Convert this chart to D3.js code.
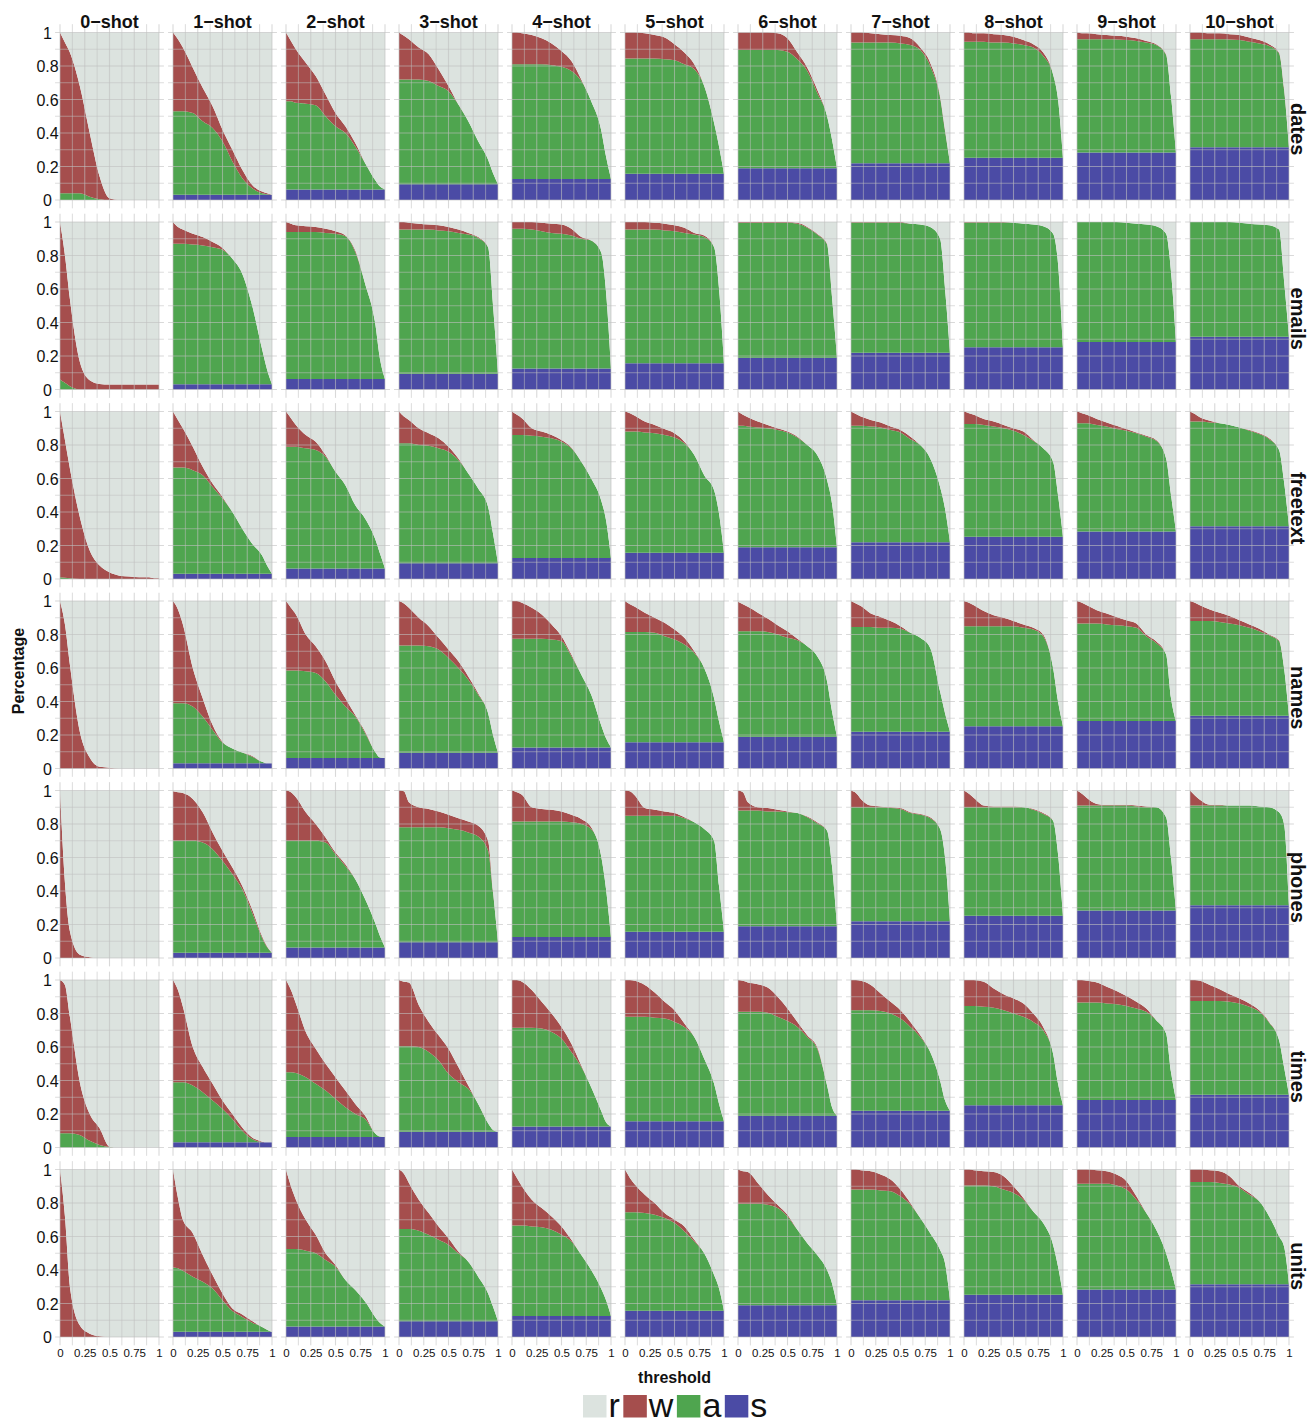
<!DOCTYPE html>
<html>
<head>
	<meta charset="utf-8">
	<title>Share of answers by threshold, task and number of shots</title>
	<script src="https://cdn.jsdelivr.net/npm/d3@7/dist/d3.min.js"></script>
	<style>
		body { margin: 0; background: #fff; }
		text { font-family: "Liberation Sans", Arial, Helvetica, sans-serif; fill: #111; }
	</style>
</head>
<body>
<div id="content"></div>

<script type="text/javascript">
	var thresholds = [0, 0.05, 0.1, 0.2, 0.3, 0.4, 0.5, 0.6, 0.7, 0.8, 0.9, 0.95, 1];
	var shots = ["0\u2212shot", "1\u2212shot", "2\u2212shot", "3\u2212shot", "4\u2212shot", "5\u2212shot",
		"6\u2212shot", "7\u2212shot", "8\u2212shot", "9\u2212shot", "10\u2212shot"];
	var tasks = ["dates", "emails", "freetext", "names", "phones", "times", "units"];
	var legendKeys = ["r", "w", "a", "s"];
	var xTicks = [0, 0.25, 0.5, 0.75, 1];
	var yTicks = [0, 0.2, 0.4, 0.6, 0.8, 1];
	var xGrid = [0, 0.125, 0.25, 0.375, 0.5, 0.625, 0.75, 0.875, 1];
	var yGrid = [0, 0.1, 0.2, 0.3, 0.4, 0.5, 0.6, 0.7, 0.8, 0.9, 1];

	// s share, the same at every threshold, one per shot count
	var sShare = [0, 0.031, 0.063, 0.094, 0.126, 0.157, 0.189, 0.22, 0.252, 0.283, 0.315];

	// top = s + a + w (1 - r), ok = s + a ; one row per shot, one value per threshold
	var datesTop = [
		[1, .94, .88, .68, .40, .14, .01, 0, 0, 0, 0, 0, 0],
		[1, .96, .91, .79, .67, .56, .42, .30, .18, .09, .05, .04, .031],
		[1, .95, .90, .82, .74, .63, .52, .44, .34, .22, .12, .08, .063],
		[1, .98, .96, .91, .87, .78, .68, .57, .47, .35, .24, .16, .094],
		[1, 1, .995, .985, .965, .935, .89, .83, .72, .59, .42, .26, .126],
		[1, 1, 1, .995, .985, .97, .93, .88, .81, .68, .46, .32, .157],
		[1, 1, 1, 1, 1, .995, .965, .88, .79, .66, .50, .36, .19],
		[1, 1, 1, .995, .99, .985, .98, .965, .91, .82, .62, .42, .22],
		[1, 1, .995, .995, .99, .985, .975, .955, .93, .88, .75, .60, .252],
		[1, .995, .995, .99, .985, .98, .975, .965, .95, .93, .87, .62, .283],
		[1, 1, 1, .995, .995, .99, .985, .97, .955, .93, .88, .67, .315]
	];
	var datesOk = [
		[.04, .04, .04, .04, .02, .005, 0, 0, 0, 0, 0, 0, 0],
		[.53, .53, .53, .52, .47, .43, .35, .23, .13, .07, .04, .035, .031],
		[.59, .59, .58, .575, .565, .50, .44, .40, .32, .22, .12, .08, .063],
		[.72, .72, .72, .72, .71, .68, .65, .57, .47, .35, .24, .16, .094],
		[.81, .81, .81, .81, .81, .805, .795, .77, .71, .59, .42, .26, .126],
		[.845, .845, .845, .845, .845, .84, .835, .81, .78, .68, .46, .32, .157],
		[.895, .895, .895, .895, .895, .895, .885, .84, .77, .64, .50, .36, .19],
		[.94, .94, .94, .94, .94, .94, .935, .925, .895, .80, .61, .41, .22],
		[.945, .945, .945, .945, .94, .94, .935, .925, .91, .86, .75, .60, .252],
		[.96, .96, .96, .96, .96, .958, .955, .95, .94, .925, .865, .62, .283],
		[.96, .96, .96, .96, .96, .958, .955, .945, .935, .92, .875, .66, .315]
	];

	var emailsTop = [
		[1, .80, .54, .165, .055, .033, .03, .03, .03, .03, .03, .03, .03],
		[1, .97, .955, .93, .91, .88, .845, .78, .69, .50, .24, .12, .031],
		[1, .99, .98, .975, .97, .96, .945, .92, .83, .63, .40, .18, .063],
		[1, 1, .995, .99, .985, .98, .97, .955, .935, .91, .85, .50, .094],
		[1, 1, 1, 1, .995, .99, .985, .96, .91, .89, .82, .58, .126],
		[1, 1, 1, 1, .995, .99, .98, .965, .935, .92, .85, .60, .157],
		[1, 1, 1, 1, 1, 1, 1, .995, .97, .93, .87, .55, .19],
		[1, 1, 1, 1, 1, 1, 1, .99, .985, .97, .90, .60, .22],
		[1, 1, 1, 1, 1, 1, .995, .99, .985, .975, .93, .75, .252],
		[1, 1, 1, 1, 1, 1, .995, .99, .985, .975, .93, .70, .283],
		[1, 1, 1, 1, 1, 1, .995, .99, .985, .98, .955, .65, .315]
	];
	var emailsOk = [
		[.06, .04, .02, 0, 0, 0, 0, 0, 0, 0, 0, 0, 0],
		[.87, .87, .87, .865, .86, .85, .835, .78, .69, .50, .24, .12, .031],
		[.94, .94, .94, .94, .94, .935, .93, .915, .82, .63, .40, .18, .063],
		[.955, .955, .955, .955, .955, .95, .945, .935, .925, .905, .85, .50, .094],
		[.96, .96, .96, .955, .945, .935, .93, .92, .90, .89, .82, .58, .126],
		[.955, .955, .955, .955, .955, .95, .945, .935, .925, .91, .85, .60, .157],
		[.995, .995, .995, .995, .995, .995, .995, .99, .965, .925, .865, .55, .19],
		[.997, .997, .997, .997, .997, .997, .995, .99, .985, .97, .90, .60, .22],
		[.997, .997, .997, .997, .997, .997, .995, .99, .985, .975, .93, .75, .252],
		[1, 1, 1, 1, 1, 1, .995, .99, .985, .975, .93, .70, .283],
		[1, 1, 1, 1, 1, 1, .995, .99, .985, .98, .955, .65, .315]
	];

	var freetextTop = [
		[1, .83, .66, .37, .17, .08, .04, .02, .015, .01, .01, .005, .005],
		[1, .95, .90, .79, .67, .57, .49, .40, .30, .21, .14, .08, .031],
		[1, .96, .92, .86, .82, .74, .64, .56, .44, .36, .24, .15, .063],
		[1, .97, .95, .90, .87, .84, .79, .72, .63, .54, .43, .27, .094],
		[1, .98, .96, .90, .88, .86, .83, .785, .70, .60, .47, .35, .126],
		[1, .99, .975, .94, .92, .895, .87, .82, .74, .62, .53, .39, .157],
		[1, .98, .965, .94, .92, .90, .88, .85, .80, .74, .59, .45, .19],
		[1, .985, .97, .95, .935, .91, .89, .85, .80, .72, .55, .42, .22],
		[1, .99, .98, .955, .94, .92, .90, .88, .83, .78, .70, .50, .252],
		[1, .99, .98, .955, .935, .915, .895, .875, .855, .83, .72, .50, .283],
		[1, .985, .965, .945, .93, .915, .905, .89, .87, .84, .77, .58, .315]
	];
	var freetextOk = [
		[.01, .008, .005, 0, 0, 0, 0, 0, 0, 0, 0, 0, 0],
		[.665, .665, .665, .65, .62, .55, .48, .40, .30, .21, .14, .08, .031],
		[.79, .79, .79, .78, .77, .73, .64, .56, .44, .36, .24, .15, .063],
		[.81, .81, .81, .80, .795, .78, .76, .71, .63, .54, .43, .27, .094],
		[.86, .86, .86, .855, .85, .84, .82, .78, .70, .60, .47, .35, .126],
		[.88, .88, .88, .875, .87, .86, .845, .81, .74, .62, .53, .39, .157],
		[.915, .915, .91, .905, .90, .89, .875, .845, .80, .74, .59, .45, .19],
		[.915, .915, .915, .91, .905, .89, .875, .835, .80, .72, .55, .42, .22],
		[.925, .925, .925, .92, .91, .90, .885, .86, .825, .78, .70, .50, .252],
		[.93, .93, .93, .92, .91, .895, .885, .87, .85, .825, .72, .50, .283],
		[.94, .94, .94, .935, .93, .92, .905, .885, .865, .835, .77, .58, .315]
	];

	var namesTop = [
		[1, .86, .62, .22, .065, .01, .005, 0, 0, 0, 0, 0, 0],
		[1, .95, .86, .60, .42, .26, .16, .12, .095, .075, .04, .031, .031],
		[1, .96, .92, .80, .73, .64, .52, .42, .32, .22, .10, .065, .063],
		[1, .985, .96, .90, .85, .78, .71, .64, .55, .45, .33, .20, .094],
		[1, 1, .99, .96, .92, .86, .79, .68, .56, .44, .26, .18, .126],
		[1, .98, .965, .93, .90, .87, .83, .78, .70, .60, .42, .28, .157],
		[.995, .98, .965, .93, .895, .855, .82, .775, .73, .67, .52, .34, .19],
		[1, .985, .97, .925, .905, .88, .85, .81, .78, .72, .46, .33, .22],
		[1, .99, .975, .94, .915, .90, .88, .86, .84, .80, .60, .40, .252],
		[1, .99, .975, .945, .925, .905, .885, .865, .80, .76, .68, .42, .283],
		[1, .99, .975, .95, .93, .91, .885, .86, .835, .80, .765, .60, .315]
	];
	var namesOk = [
		[0, 0, 0, 0, 0, 0, 0, 0, 0, 0, 0, 0, 0],
		[.39, .39, .39, .37, .31, .23, .155, .12, .095, .07, .04, .031, .031],
		[.585, .585, .585, .58, .57, .52, .44, .37, .31, .21, .10, .065, .063],
		[.735, .735, .735, .735, .73, .71, .66, .60, .53, .44, .33, .20, .094],
		[.775, .775, .775, .775, .775, .77, .76, .67, .56, .44, .26, .18, .126],
		[.815, .815, .815, .815, .81, .79, .77, .74, .69, .60, .42, .28, .157],
		[.82, .82, .82, .82, .815, .80, .78, .765, .73, .67, .52, .34, .19],
		[.845, .845, .845, .845, .84, .84, .835, .81, .78, .72, .46, .33, .22],
		[.85, .85, .85, .85, .85, .85, .85, .84, .83, .79, .60, .40, .252],
		[.865, .865, .865, .865, .86, .855, .85, .84, .79, .75, .68, .42, .283],
		[.88, .88, .88, .88, .875, .865, .855, .84, .82, .795, .76, .60, .315]
	];

	var phonesTop = [
		[1, .45, .16, .02, .005, 0, 0, 0, 0, 0, 0, 0, 0],
		[.995, .99, .985, .95, .87, .75, .64, .54, .43, .29, .13, .07, .031],
		[1, .99, .96, .87, .80, .72, .63, .56, .47, .35, .21, .13, .063],
		[1, .995, .93, .90, .89, .875, .855, .835, .815, .79, .70, .40, .094],
		[1, .99, .975, .90, .89, .885, .875, .855, .83, .78, .61, .41, .126],
		[1, .995, .97, .895, .885, .875, .865, .84, .81, .77, .70, .43, .157],
		[1, .99, .93, .90, .895, .885, .875, .865, .845, .81, .76, .55, .19],
		[1, .985, .95, .91, .905, .90, .895, .87, .86, .84, .77, .60, .22],
		[1, .98, .955, .91, .905, .905, .905, .90, .89, .865, .82, .62, .252],
		[1, .98, .955, .92, .915, .915, .915, .91, .905, .90, .84, .60, .283],
		[1, .97, .945, .915, .915, .91, .91, .91, .905, .90, .87, .80, .315]
	];
	var phonesOk = [
		[0, 0, 0, 0, 0, 0, 0, 0, 0, 0, 0, 0, 0],
		[.70, .70, .70, .70, .69, .65, .58, .50, .41, .27, .12, .065, .031],
		[.70, .70, .70, .70, .70, .69, .62, .55, .47, .35, .21, .13, .063],
		[.78, .78, .78, .78, .78, .78, .775, .765, .75, .725, .64, .39, .094],
		[.815, .815, .815, .815, .815, .815, .815, .81, .80, .77, .61, .41, .126],
		[.85, .85, .85, .85, .85, .85, .85, .835, .81, .77, .70, .43, .157],
		[.88, .88, .88, .88, .875, .875, .87, .865, .84, .805, .76, .55, .19],
		[.90, .90, .90, .90, .90, .895, .89, .865, .855, .835, .77, .60, .22],
		[.90, .90, .90, .90, .90, .90, .90, .90, .885, .86, .82, .62, .252],
		[.91, .91, .91, .91, .91, .91, .91, .905, .90, .90, .84, .60, .283],
		[.91, .91, .91, .91, .91, .91, .91, .91, .905, .90, .87, .80, .315]
	];

	var timesTop = [
		[1, .97, .78, .39, .20, .115, .005, 0, 0, 0, 0, 0, 0],
		[1, .94, .84, .60, .48, .38, .28, .20, .12, .06, .035, .031, .031],
		[1, .94, .86, .69, .59, .50, .42, .34, .26, .19, .085, .065, .063],
		[1, .99, .985, .85, .75, .67, .59, .48, .37, .26, .145, .105, .094],
		[1, 1, .99, .94, .87, .80, .72, .62, .49, .36, .22, .15, .126],
		[1, 1, .995, .97, .925, .87, .82, .74, .66, .53, .38, .26, .157],
		[1, .995, .985, .975, .955, .90, .83, .75, .67, .60, .37, .24, .19],
		[1, 1, .995, .97, .92, .87, .82, .75, .67, .57, .40, .28, .22],
		[1, 1, 1, .99, .95, .915, .89, .86, .80, .72, .56, .38, .252],
		[1, 1, .995, .985, .96, .935, .905, .87, .83, .76, .68, .45, .283],
		[1, 1, .995, .97, .945, .915, .89, .86, .82, .75, .64, .48, .315]
	];
	var timesOk = [
		[.085, .085, .085, .075, .04, .015, .003, 0, 0, 0, 0, 0, 0],
		[.39, .39, .39, .37, .33, .28, .23, .17, .10, .05, .032, .031, .031],
		[.45, .45, .445, .42, .38, .34, .29, .24, .20, .17, .085, .065, .063],
		[.605, .605, .605, .60, .57, .52, .44, .39, .35, .26, .145, .105, .094],
		[.715, .715, .715, .715, .71, .69, .65, .57, .48, .36, .22, .15, .126],
		[.78, .78, .78, .78, .775, .77, .75, .72, .66, .53, .38, .26, .157],
		[.81, .81, .81, .81, .805, .78, .755, .72, .66, .59, .37, .24, .19],
		[.82, .82, .82, .82, .815, .80, .77, .72, .66, .57, .40, .28, .22],
		[.845, .845, .845, .84, .835, .82, .80, .78, .75, .70, .56, .38, .252],
		[.865, .865, .865, .865, .86, .855, .845, .83, .81, .76, .68, .45, .283],
		[.875, .875, .875, .875, .875, .87, .86, .84, .81, .745, .64, .48, .315]
	];

	var unitsTop = [
		[1, .72, .30, .07, .02, .004, 0, 0, 0, 0, 0, 0, 0],
		[1, .83, .70, .62, .49, .37, .26, .17, .135, .095, .06, .044, .031],
		[1, .90, .82, .70, .61, .50, .43, .34, .28, .21, .12, .083, .063],
		[1, .975, .92, .82, .74, .66, .59, .51, .45, .36, .26, .18, .094],
		[1, .95, .90, .82, .77, .72, .66, .58, .49, .40, .29, .22, .126],
		[1, .95, .91, .85, .80, .74, .70, .66, .58, .50, .37, .29, .157],
		[1, .99, .985, .92, .85, .79, .73, .64, .56, .49, .40, .32, .19],
		[1, 1, .995, .99, .97, .94, .88, .80, .71, .62, .52, .44, .22],
		[1, 1, .995, .99, .985, .96, .90, .83, .75, .68, .55, .42, .252],
		[1, 1, 1, .995, .99, .97, .93, .84, .74, .64, .50, .40, .283],
		[1, 1, 1, .995, .99, .96, .90, .86, .81, .72, .60, .54, .315]
	];
	var unitsOk = [
		[0, 0, 0, 0, 0, 0, 0, 0, 0, 0, 0, 0, 0],
		[.415, .41, .395, .36, .33, .29, .22, .155, .12, .085, .06, .044, .031],
		[.525, .525, .525, .515, .50, .46, .42, .34, .28, .21, .12, .083, .063],
		[.645, .645, .645, .635, .61, .58, .55, .50, .45, .36, .26, .18, .094],
		[.665, .665, .665, .66, .655, .64, .61, .57, .49, .40, .29, .22, .126],
		[.745, .745, .745, .74, .73, .71, .68, .63, .57, .50, .37, .29, .157],
		[.795, .795, .795, .795, .79, .77, .72, .64, .56, .49, .40, .32, .19],
		[.88, .88, .88, .88, .875, .87, .84, .79, .71, .62, .52, .44, .22],
		[.905, .905, .905, .905, .90, .88, .86, .82, .75, .68, .55, .42, .252],
		[.915, .915, .915, .915, .915, .905, .88, .82, .74, .64, .50, .40, .283],
		[.925, .925, .925, .925, .92, .91, .89, .85, .81, .72, .60, .54, .315]
	];

	var answered = { dates: datesTop, emails: emailsTop, freetext: freetextTop, names: namesTop,
		phones: phonesTop, times: timesTop, units: unitsTop };
	var correct = { dates: datesOk, emails: emailsOk, freetext: freetextOk, names: namesOk,
		phones: phonesOk, times: timesOk, units: unitsOk };

	var colors = { r: "#dce3df", w: "#a54e4d", a: "#4fa54f", s: "#4b4ba5" };

	var svg = d3.select('#content')
		.append('svg')
		.attr('width', 1316)
		.attr('height', 1423);

	var col = d3.scaleBand().domain(shots).range([60, 1289]).paddingInner(0.1239);
	var row = d3.scaleBand().domain(tasks).range([32.5, 1337]).paddingInner(0.1161);
	var cw = col.bandwidth(), ch = row.bandwidth();

	var x = d3.scaleLinear().domain([0, 1]).range([0, cw]);
	var y = d3.scaleLinear().domain([0, 1]).range([ch, 0]);

	var stack = d3.stack().keys(["s", "a", "w", "r"]);
	var area = d3.area()
		.curve(d3.curveMonotoneX)
		.x(d => x(d.data.t))
		.y0(d => y(d[0]))
		.y1(d => y(d[1]));

	tasks.forEach(function (task, i) {
		shots.forEach(function (shot, j) {
			var rows = thresholds.map(function (t, k) {
				var s = sShare[j];
				var a = Math.max(0, correct[task][j][k] - s);
				var w = Math.max(0, answered[task][j][k] - s - a);
				return { t: t, s: s, a: a, w: w, r: Math.max(0, 1 - s - a - w) };
			});

			var g = svg.append('g')
				.attr('transform', 'translate(' + col(shot) + ',' + row(task) + ')');

			g.selectAll('path.layer')
				.data(stack(rows))
				.enter()
				.append('path')
				.attr('class', 'layer')
				.attr('fill', d => colors[d.key])
				.attr('d', area);

			// grid sits on top of the layers and spills into the 5% margin
			g.selectAll('line.vg')
				.data(xGrid)
				.enter()
				.append('line')
				.attr('x1', d => x(d)).attr('x2', d => x(d))
				.attr('y1', y(1.05)).attr('y2', y(-0.05))
				.attr('stroke', '#c0c0c0')
				.attr('stroke-opacity', 0.6)
				.attr('stroke-width', d => xTicks.indexOf(d) >= 0 ? 1.1 : 0.9);

			g.selectAll('line.hg')
				.data(yGrid)
				.enter()
				.append('line')
				.attr('x1', x(-0.05)).attr('x2', x(1.05))
				.attr('y1', d => y(d)).attr('y2', d => y(d))
				.attr('stroke', '#c0c0c0')
				.attr('stroke-opacity', 0.6)
				.attr('stroke-width', (d, n) => n % 2 === 0 ? 1.1 : 0.9);

			if (j === 0) {
				var ya = g.append('g').call(d3.axisLeft(y).tickValues(yTicks).tickSize(0).tickFormat(d3.format('~g')));
				ya.select('.domain').remove();
				ya.selectAll('text')
					.attr('x', -12.5)
					.attr('dy', '0.36em')
					.attr('text-anchor', 'middle')
					.style('font-size', '16px')
					.style('font-family', '"Liberation Sans", Arial, sans-serif')
					.attr('fill', '#111');
			}

			if (i === tasks.length - 1) {
				var xa = g.append('g')
					.attr('transform', 'translate(0,' + ch + ')')
					.call(d3.axisBottom(x).tickValues(xTicks).tickSize(0).tickFormat(d3.format('~g')));
				xa.select('.domain').remove();
				xa.selectAll('text')
					.attr('y', 20)
					.attr('dy', null)
					.style('font-size', '11.5px')
					.style('font-family', '"Liberation Sans", Arial, sans-serif')
					.attr('fill', '#333');
			}
		});
	});

	// facet strips
	svg.selectAll('text.colstrip')
		.data(shots)
		.enter()
		.append('text')
		.attr('class', 'colstrip')
		.attr('x', d => col(d) + cw / 2)
		.attr('y', 27.5)
		.attr('text-anchor', 'middle')
		.style('font-size', '18px')
		.style('font-weight', 'bold')
		.text(d => d);

	svg.selectAll('text.rowstrip')
		.data(tasks)
		.enter()
		.append('text')
		.attr('class', 'rowstrip')
		.attr('transform', d => 'translate(1291,' + (row(d) + ch / 2 + 13) + ') rotate(90)')
		.attr('text-anchor', 'middle')
		.style('font-size', '20px')
		.style('font-weight', 'bold')
		.text(d => d);

	// axis titles
	svg.append('text')
		.attr('x', (col(shots[0]) + col(shots[10]) + cw) / 2)
		.attr('y', 1383)
		.attr('text-anchor', 'middle')
		.style('font-size', '16px')
		.style('font-weight', 'bold')
		.text('threshold');

	svg.append('text')
		.attr('transform', 'translate(23.5,671) rotate(-90)')
		.attr('text-anchor', 'middle')
		.style('font-size', '16px')
		.style('font-weight', 'bold')
		.text('Percentage');

	// legend
	var lx = 583;
	legendKeys.forEach(function (k) {
		svg.append('rect')
			.attr('x', lx).attr('y', 1395)
			.attr('width', 23.5).attr('height', 22.5)
			.attr('fill', colors[k]);
		var t = svg.append('text')
			.attr('x', lx + 25.5)
			.attr('y', 1416.5)
			.style('font-size', '34px')
			.text(k);
		lx += 25.5 + t.node().getComputedTextLength() + 3.5;
	});
</script>
</body>
</html>
